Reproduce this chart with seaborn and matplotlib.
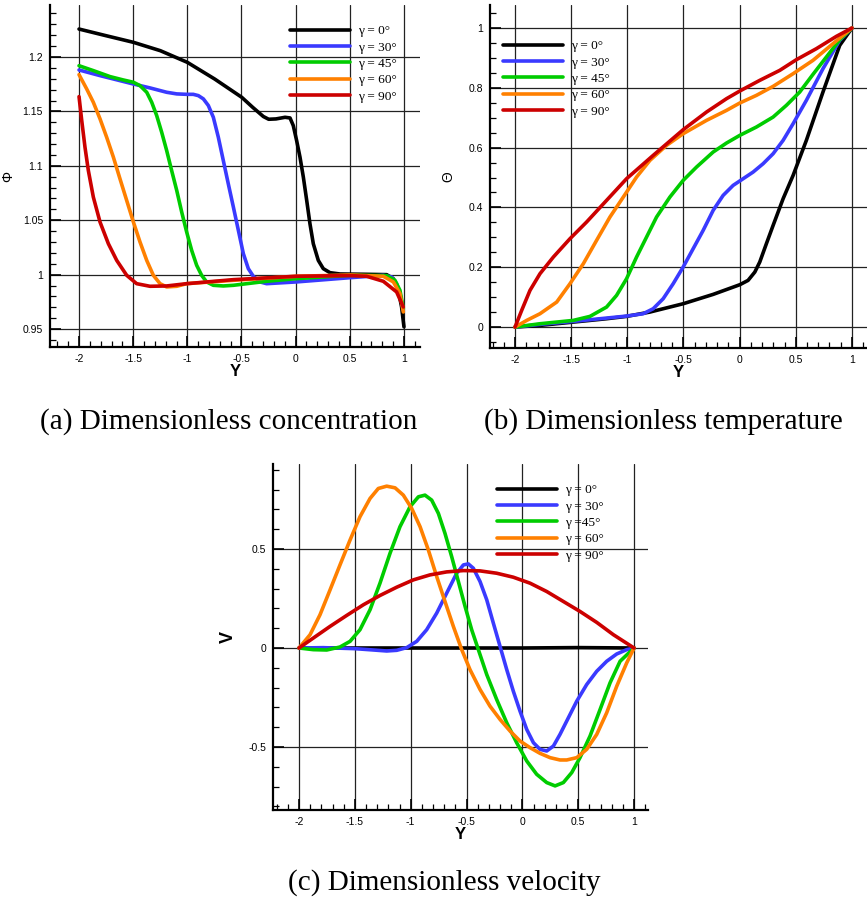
import numpy as np
import pandas as pd
import matplotlib
matplotlib.use("Agg")
import matplotlib.pyplot as plt
from matplotlib.ticker import FixedLocator, MultipleLocator
import seaborn as sns

sns.set_style("white")
plt.rcParams['font.family'] = ['Liberation Sans', 'DejaVu Sans']
plt.rcParams['text.color'] = 'black'
plt.rcParams['axes.labelcolor'] = 'black'

labels = ["γ = 0°", "γ = 30°", "γ = 45°", "γ = 60°", "γ = 90°"]
labels_c = ["γ = 0°", "γ = 30°", "γ =45°", "γ = 60°", "γ = 90°"]
colors = ["#000000", "#3a3aff", "#00cc00", "#ff8000", "#cc0000"]

# ---- (a) concentration ----
a0_x = [-2.0, -1.751, -1.498, -1.249, -1.0, -0.748, -0.498, -0.397, -0.298, -0.249, -0.182, -0.098, -0.052,
        -0.022, 0.009, 0.040, 0.071, 0.102, 0.132, 0.163, 0.209, 0.255, 0.317, 0.409, 0.655, 0.840, 0.902,
        0.948, 0.978, 1.0]
a0_y = [1.2257, 1.2196, 1.2135, 1.2058, 1.1951, 1.1798, 1.1630, 1.1538, 1.1453, 1.1428, 1.1431, 1.1446, 1.1440,
        1.1370, 1.1232, 1.1080, 1.0896, 1.0682, 1.0468, 1.0284, 1.0131, 1.0055, 1.0018, 1.0006, 1.0003, 1.0,
        0.9963, 0.9856, 0.9703, 0.9520]
a30_x = [-2.0, -1.806, -1.498, -1.345, -1.191, -1.098, -1.006, -0.945, -0.898, -0.852, -0.806, -0.760, -0.714,
         -0.668, -0.622, -0.575, -0.529, -0.483, -0.437, -0.391, -0.329, -0.268, 0.006, 0.502, 0.809, 0.886,
         0.932, 0.963, 0.994]
a30_y = [1.1881, 1.1829, 1.1752, 1.1716, 1.1676, 1.1661, 1.1657, 1.1657, 1.1645, 1.1615, 1.1554, 1.1446, 1.1263,
         1.1049, 1.0835, 1.0621, 1.0407, 1.0193, 1.0055, 0.9985, 0.9933, 0.9917, 0.9933, 0.9972, 0.9994, 0.9979,
         0.9917, 0.9826, 0.9673]
a45_x = [-2.0, -1.868, -1.714, -1.591, -1.498, -1.437, -1.375, -1.329, -1.283, -1.237, -1.191, -1.145, -1.098,
         -1.052, -1.006, -0.960, -0.914, -0.868, -0.822, -0.760, -0.668, -0.575, -0.268, 0.006, 0.502, 0.840,
         0.917, 0.963, 0.994]
a45_y = [1.1920, 1.1875, 1.1820, 1.1789, 1.1768, 1.1737, 1.1676, 1.1584, 1.1462, 1.1309, 1.1141, 1.0957, 1.0774,
         1.0575, 1.0391, 1.0223, 1.0086, 0.9994, 0.9933, 0.9902, 0.9896, 0.9902, 0.9939, 0.9963, 0.9994, 0.9991,
         0.9948, 0.9856, 0.9688]
a60_x = [-2.0, -1.929, -1.868, -1.806, -1.745, -1.683, -1.622, -1.560, -1.498, -1.437, -1.375, -1.314, -1.252,
         -1.191, -1.098, -1.006, -0.575, 0.006, 0.502, 0.809, 0.902, 0.963, 0.994]
a60_y = [1.1838, 1.1706, 1.1584, 1.1431, 1.1263, 1.1080, 1.0881, 1.0682, 1.0483, 1.0300, 1.0131, 0.9994, 0.9917,
         0.9887, 0.9893, 0.9917, 0.9948, 0.9985, 0.9997, 0.9985, 0.9933, 0.9826, 0.9657]
a90_x = [-2.0, -1.975, -1.945, -1.914, -1.868, -1.806, -1.729, -1.652, -1.560, -1.468, -1.345, -1.191, -1.006,
         -0.575, 0.006, 0.502, 0.655, 0.809, 0.932, 0.994]
a90_y = [1.1636, 1.1416, 1.1171, 1.0957, 1.0713, 1.0483, 1.0284, 1.0131, 0.9994, 0.9917, 0.9893, 0.9896, 0.9917,
         0.9954, 0.9985, 0.9991, 0.9985, 0.9939, 0.9841, 0.9703]

# ---- (b) temperature ----
b0_x = [-2.0, -1.778, -1.481, -1.185, -1.007, -0.799, -0.503, -0.236, 0.001, 0.075, 0.135, 0.179, 0.238, 0.298,
        0.387, 0.476, 0.594, 0.742, 0.891, 1.0]
b0_y = [0.0, 0.0056, 0.0167, 0.0279, 0.0357, 0.0502, 0.0780, 0.1093, 0.1416, 0.1561, 0.1839, 0.2174, 0.2787,
        0.3400, 0.4292, 0.5072, 0.6243, 0.7860, 0.9420, 1.0]
b30_x = [-2.0, -1.778, -1.481, -1.185, -1.007, -0.859, -0.770, -0.681, -0.592, -0.503, -0.414, -0.325, -0.236,
         -0.147, -0.058, 0.031, 0.120, 0.209, 0.298, 0.387, 0.476, 0.594, 0.742, 0.891, 1.0]
b30_y = [0.0, 0.0089, 0.0190, 0.0301, 0.0368, 0.0446, 0.0613, 0.0948, 0.1449, 0.2007, 0.2620, 0.3233, 0.3902,
         0.4404, 0.4738, 0.4961, 0.5184, 0.5463, 0.5797, 0.6243, 0.6800, 0.7581, 0.8640, 0.9588, 1.0]
b45_x = [-2.0, -1.778, -1.481, -1.333, -1.185, -1.096, -1.007, -0.918, -0.829, -0.740, -0.621, -0.503, -0.384,
         -0.236, -0.117, 0.001, 0.149, 0.298, 0.416, 0.535, 0.653, 0.772, 0.891, 1.0]
b45_y = [0.0, 0.0111, 0.0223, 0.0357, 0.0669, 0.1059, 0.1616, 0.2341, 0.3010, 0.3679, 0.4348, 0.4905, 0.5351,
         0.5853, 0.6154, 0.6410, 0.6689, 0.7023, 0.7414, 0.7860, 0.8450, 0.9030, 0.9610, 1.0]
b60_x = [-2.0, -1.896, -1.778, -1.629, -1.511, -1.392, -1.274, -1.155, -1.036, -0.918, -0.799, -0.651, -0.503,
         -0.295, -0.117, 0.001, 0.149, 0.298, 0.476, 0.653, 0.831, 1.0]
b60_y = [0.0, 0.0223, 0.0446, 0.0836, 0.1449, 0.2118, 0.2899, 0.3679, 0.4348, 0.5017, 0.5574, 0.6076, 0.6466,
         0.6912, 0.7246, 0.7492, 0.7748, 0.8049, 0.8473, 0.8919, 0.9476, 1.0]
b90_x = [-2.0, -1.941, -1.867, -1.778, -1.659, -1.511, -1.363, -1.185, -1.007, -0.770, -0.503, -0.295, -0.117,
         0.001, 0.179, 0.357, 0.505, 0.683, 0.861, 1.0]
b90_y = [0.0, 0.0557, 0.1226, 0.1784, 0.2341, 0.2954, 0.3512, 0.4236, 0.4961, 0.5741, 0.6600, 0.7191, 0.7637,
         0.7893, 0.8250, 0.8584, 0.8941, 0.9309, 0.9721, 1.0]

# ---- (c) velocity ----
c0_x = [-2.0, -1.0, 0.0, 0.5, 1.0]
c0_y = [0.0, 0.0, 0.0, 0.002, 0.0]
c30_x = [-2.0, -1.782, -1.499, -1.334, -1.215, -1.125, -1.036, -0.946, -0.857, -0.767, -0.678, -0.588, -0.528,
         -0.484, -0.439, -0.379, -0.319, -0.260, -0.200, -0.140, -0.081, -0.021, 0.039, 0.099, 0.158, 0.218,
         0.278, 0.337, 0.397, 0.487, 0.576, 0.666, 0.755, 0.845, 0.934, 1.0]
c30_y = [0.0, 0.0017, -0.0034, -0.0101, -0.0151, -0.0117, 0.0017, 0.0336, 0.0923, 0.1762, 0.2768, 0.3775, 0.4195,
         0.4245, 0.4027, 0.3356, 0.2433, 0.1258, 0.0084, -0.1091, -0.2181, -0.3188, -0.4111, -0.4782, -0.5117,
         -0.5201, -0.4950, -0.4362, -0.3691, -0.2685, -0.1846, -0.1174, -0.0671, -0.0302, -0.0084, 0.0]
c45_x = [-2.0, -1.872, -1.752, -1.633, -1.543, -1.454, -1.364, -1.275, -1.185, -1.096, -1.006, -0.931, -0.872,
         -0.812, -0.752, -0.693, -0.633, -0.573, -0.513, -0.454, -0.394, -0.319, -0.230, -0.140, -0.051, 0.039,
         0.128, 0.218, 0.293, 0.367, 0.442, 0.516, 0.606, 0.696, 0.785, 0.875, 1.0]
c45_y = [0.0, -0.0084, -0.0101, 0.0050, 0.0336, 0.0923, 0.1930, 0.3272, 0.4782, 0.6124, 0.7131, 0.7634, 0.7718,
         0.7466, 0.6795, 0.5789, 0.4614, 0.3356, 0.2097, 0.0923, -0.0084, -0.1342, -0.2601, -0.3775, -0.4782,
         -0.5705, -0.6376, -0.6795, -0.6963, -0.6795, -0.6292, -0.5537, -0.4446, -0.3104, -0.1762, -0.0671, 0.0]
c60_x = [-2.0, -1.901, -1.812, -1.722, -1.633, -1.543, -1.454, -1.364, -1.290, -1.215, -1.140, -1.066, -0.991,
         -0.916, -0.842, -0.767, -0.693, -0.618, -0.543, -0.469, -0.379, -0.290, -0.200, -0.110, -0.021, 0.069,
         0.158, 0.248, 0.337, 0.397, 0.487, 0.576, 0.666, 0.755, 0.845, 0.934, 1.0]
c60_y = [0.0, 0.0671, 0.1678, 0.2936, 0.4195, 0.5453, 0.6628, 0.7550, 0.8054, 0.8171, 0.8087, 0.7718, 0.7047,
         0.6124, 0.4950, 0.3607, 0.2349, 0.1091, -0.0084, -0.1091, -0.2097, -0.2936, -0.3607, -0.4195, -0.4698,
         -0.5034, -0.5319, -0.5537, -0.5654, -0.5654, -0.5537, -0.5117, -0.4362, -0.3272, -0.1930, -0.0755, 0.0]
c90_x = [-2.0, -1.872, -1.722, -1.573, -1.424, -1.275, -1.125, -0.976, -0.827, -0.678, -0.528, -0.379, -0.230,
         -0.081, 0.069, 0.218, 0.367, 0.516, 0.666, 0.815, 1.0]
c90_y = [0.0, 0.0503, 0.1091, 0.1644, 0.2181, 0.2651, 0.3070, 0.3440, 0.3691, 0.3842, 0.3909, 0.3893, 0.3775,
         0.3574, 0.3272, 0.2852, 0.2349, 0.1846, 0.1292, 0.0671, 0.0]

x_ticks = [-2, -1.5, -1, -0.5, 0, 0.5, 1]
x_ticklabels = ["-2", "-1.5", "-1", "-0.5", "0", "0.5", "1"]
a_yticks = [0.95, 1.0, 1.05, 1.1, 1.15, 1.2]
a_yticklabels = ["0.95", "1", "1.05", "1.1", "1.15", "1.2"]
b_yticks = [0, 0.2, 0.4, 0.6, 0.8, 1.0]
b_yticklabels = ["0", "0.2", "0.4", "0.6", "0.8", "1"]
c_yticks = [-0.5, 0, 0.5]
c_yticklabels = ["-0.5", "0", "0.5"]

W, H = 867, 900
fig = plt.figure(figsize=(W / 100, H / 100), dpi=100)


def make_ax(l, r, t, b):
    return fig.add_axes([l / W, 1 - b / H, (r - l) / W, (b - t) / H])


def style(ax, xlim, ylim, yt, ytl, ymin, ylabel, ylab_kw, ylab_x):
    ax.set_xlim(*xlim)
    ax.set_ylim(*ylim)
    ax.xaxis.set_major_locator(FixedLocator(x_ticks))
    ax.set_xticklabels(x_ticklabels)
    ax.xaxis.set_minor_locator(MultipleLocator(0.1))
    ax.yaxis.set_major_locator(FixedLocator(yt))
    ax.set_yticklabels(ytl)
    ax.yaxis.set_minor_locator(MultipleLocator(ymin))
    ax.grid(True, which='major', color='#222222', lw=0.9)
    for s in ['top', 'right']:
        ax.spines[s].set_visible(False)
    for s in ['left', 'bottom']:
        ax.spines[s].set_color('black')
        ax.spines[s].set_linewidth(1.6)
    ax.tick_params(which='major', direction='in', length=8, width=1.2, labelsize=7.5, pad=5,
                   colors='black', labelcolor='black')
    ax.tick_params(which='minor', direction='in', length=4, width=0.9, colors='black')
    ax.tick_params(left=True, bottom=True, which='both')
    ax.set_xlabel('Y', fontsize=12, fontweight='bold', labelpad=0, color='black')
    ax.set_ylabel(ylabel, color='black', **ylab_kw)
    ax.yaxis.set_label_coords(ylab_x, 0.5)


def draw(ax, xs, ys, labs):
    for x, y, c, lab in zip(xs, ys, colors, labs):
        df = pd.DataFrame({'Y': x, 'v': y})
        sns.lineplot(data=df, x='Y', y='v', color=c, lw=2.6, label=lab, ax=ax,
                     sort=False, estimator=None, solid_joinstyle='round')


def legend(ax, x, y):
    ax.legend(loc='upper left', bbox_to_anchor=(x / W, 1 - y / H), bbox_transform=fig.transFigure,
              frameon=False, prop={'family': 'Liberation Serif', 'size': 9.6},
              handlelength=4.5, handletextpad=0.6, labelspacing=0.3, borderaxespad=0, borderpad=0)


# (a)
axa = make_ax(50, 420, 5, 347)
draw(axa, [a0_x, a30_x, a45_x, a60_x, a90_x], [a0_y, a30_y, a45_y, a60_y, a90_y], labels)
style(axa, (-2.268, 1.148), (0.9335, 1.2478), a_yticks, a_yticklabels, 0.01, 'Φ',
      dict(fontsize=10), -0.095)
legend(axa, 290, 25)

# (b)
axb = make_ax(490, 867, 5, 348)
draw(axb, [b0_x, b30_x, b45_x, b60_x, b90_x], [b0_y, b30_y, b45_y, b60_y, b90_y], labels)
style(axb, (-2.223, 1.134), (-0.070, 1.077), b_yticks, b_yticklabels, 0.05, 'Θ',
      dict(fontsize=10), -0.093)
legend(axb, 503, 40)

# (c)
axc = make_ax(273, 648, 464, 810)
draw(axc, [c0_x, c30_x, c45_x, c60_x, c90_x], [c0_y, c30_y, c45_y, c60_y, c90_y], labels_c)
style(axc, (-2.233, 1.125), (-0.818, 0.929), c_yticks, c_yticklabels, 0.1, 'V',
      dict(fontsize=13, fontweight='bold'), -0.096)
legend(axc, 497, 484)

cap = dict(ha='center', va='center', fontsize=21, family='Liberation Serif', color='black')
fig.text(229 / W, 1 - 422 / H, '(a) Dimensionless concentration', **cap)
fig.text(663 / W, 1 - 422 / H, '(b) Dimensionless temperature', **cap)
fig.text(444 / W, 1 - 883 / H, '(c) Dimensionless velocity', **cap)

fig.savefig('out.png', dpi=100)
